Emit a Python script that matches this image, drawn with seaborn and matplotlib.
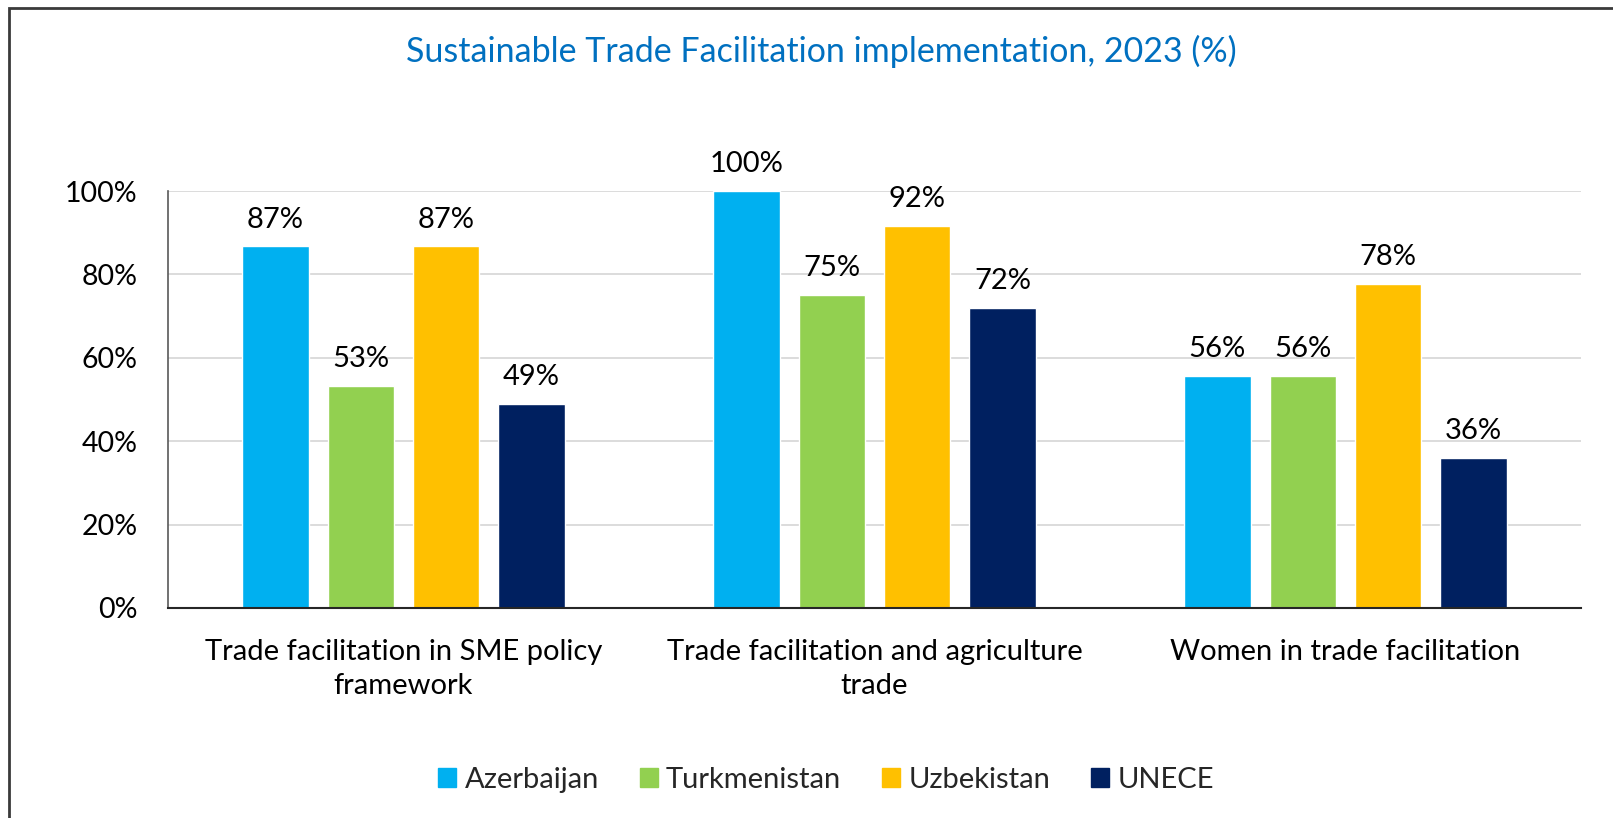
import matplotlib
matplotlib.use("Agg")
import matplotlib.pyplot as plt
import matplotlib.patches as mpatches
import seaborn as sns
import pandas as pd

categories = ["Trade facilitation in SME policy\nframework",
              "Trade facilitation and agriculture\ntrade",
              "Women in trade facilitation"]
series_names = ["Azerbaijan", "Turkmenistan", "Uzbekistan", "UNECE"]
azerbaijan = [86.7, 100.0, 55.6]
turkmenistan = [53.3, 75.0, 55.6]
uzbekistan = [86.7, 91.7, 77.8]
unece = [48.9, 72.0, 36.0]
yticks = [0, 20, 40, 60, 80, 100]
title = "Sustainable Trade Facilitation implementation, 2023 (%)"

colors = ["#00B0F0", "#92D050", "#FFC000", "#002060"]

rows = []
for name, vals in zip(series_names, [azerbaijan, turkmenistan, uzbekistan, unece]):
    for c, v in zip(categories, vals):
        rows.append({"category": c, "series": name, "value": v})
df = pd.DataFrame(rows)

sns.set_theme(style="white")
plt.rcParams['font.family'] = ['Lato', 'DejaVu Sans']

fig = plt.figure(figsize=(16.13, 8.18), dpi=100)
ax = fig.add_axes([168/1613, 1-608/818, (1581-168)/1613, (608-191)/818])

sns.barplot(data=df, x="category", y="value", hue="series", order=categories,
            hue_order=series_names, palette=colors, width=0.725, gap=0.22,
            saturation=1, ax=ax, errorbar=None, legend=True)

for cont in ax.containers:
    ax.bar_label(cont, labels=[f"{v:.0f}%" for v in cont.datavalues],
                 padding=10, fontsize=21, color="#000000")

ax.set_ylim(0, 100)
ax.set_yticks(yticks)
ax.set_yticklabels([f"{t}%" for t in yticks])
ax.set_xlabel("")
ax.set_ylabel("")
ax.yaxis.grid(True, color="#D9D9D9", linewidth=1.3)
ax.xaxis.grid(False)
ax.set_axisbelow(True)
for s in ["top", "right"]:
    ax.spines[s].set_visible(False)
ax.spines["left"].set_color("#595959")
ax.spines["left"].set_linewidth(1.2)
ax.spines["bottom"].set_color("#262626")
ax.spines["bottom"].set_linewidth(1.5)
ax.tick_params(axis="y", length=0, pad=22, labelsize=20.5, labelcolor="#000000")
ax.tick_params(axis="x", length=0, pad=22, labelsize=21, labelcolor="#000000")
for lab in ax.get_xticklabels():
    lab.set_linespacing(1.4)
ax.set_xlim(-0.5, 2.5)

fig.text(821/1613, 1-51/818, title, ha="center", va="center",
         fontsize=24.5, color="#0070C0")

handles = [mpatches.Patch(color=c, label=n) for c, n in zip(colors, series_names)]
ax.get_legend().remove()
fig.legend(handles=handles, loc="center", bbox_to_anchor=(826/1613, 1-780/818),
           ncol=4, frameon=False, fontsize=21, handlelength=0.62, handleheight=0.62,
           handletextpad=0.28, columnspacing=1.4)

fig.patches.append(mpatches.Rectangle((9/1613, -0.05), 1.2, 1-8/818+0.05,
                                      transform=fig.transFigure, fill=False,
                                      edgecolor="#3A3A3A", linewidth=2))

fig.savefig("out.png", dpi=100, facecolor="white")
